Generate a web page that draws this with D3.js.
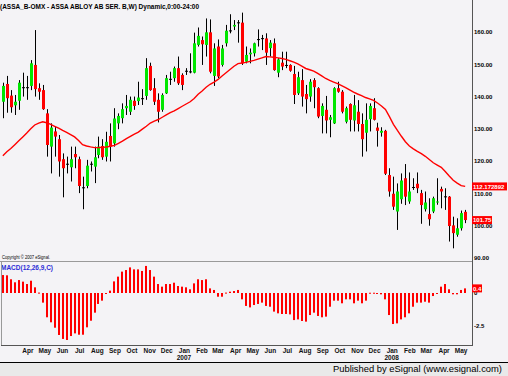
<!DOCTYPE html>
<html>
<head>
<meta charset="utf-8">
<script src="https://cdn.jsdelivr.net/npm/d3@7"></script>
<style>
  body { margin: 0; background: #f4f3f6; }
  svg { display: block; }
  text { font-family: "Liberation Sans", Arial, sans-serif; }
</style>
</head>
<body>
<div id="chart"></div>
<script>
// weekly candles, ASSA_B (OMX), Feb 2006 - May 2008
const weeks = d3.timeFriday.range(new Date(2006, 1, 17), new Date(2008, 4, 10));

const open = [138.4,143.9,140.3,137.3,138.7,142.8,142.9,143.3,149.8,142.6,142.0,134.8,124.5,129.2,126.8,120.6,119.2,118.1,122.2,120.6,
  111.9,112.3,119.1,118.3,121.9,124.7,121.4,127.8,125.5,131.7,133.3,136.4,135.3,138.7,138.6,139.4,140.2,149.5,142.6,139.0,
  135.9,141.0,145.4,145.7,148.8,146.7,147.9,147.7,147.4,156.0,157.5,156.0,159.9,146.4,155.5,149.8,156.5,160.4,161.7,162.9,
  162.9,150.8,153.1,153.4,157.7,158.0,158.0,155.0,156.5,147.4,150.5,149.8,149.8,147.0,141.0,145.1,140.8,140.0,145.1,142.6,
  134.0,135.9,132.8,131.7,142.6,141.5,132.2,137.7,132.6,135.3,131.5,128.8,133.0,136.4,130.4,128.8,129.4,115.7,109.9,104.4,
  108.2,114.7,107.5,111.9,113.0,110.1,105.1,103.6,104.4,107.2,111.4,109.0,109.0,100.1,97.2,99.2,104.3];
const high = [144.3,146.4,142.0,140.5,145.1,147.4,146.4,151.3,160.6,144.1,143.6,136.1,131.7,130.6,128.1,122.4,121.4,124.5,124.5,121.4,
  115.2,120.4,119.9,124.5,127.6,126.8,129.1,131.7,136.4,134.8,137.9,140.5,140.0,140.0,144.6,142.3,151.9,150.5,145.7,141.0,
  141.0,146.7,147.7,149.3,152.4,147.2,148.8,153.4,159.8,161.4,158.6,164.2,163.9,156.5,157.7,156.0,162.2,165.5,163.7,163.7,
  166.0,155.5,154.9,156.7,160.8,159.1,159.6,157.5,158.0,151.9,153.9,153.9,150.0,149.5,147.7,148.5,143.6,145.4,145.7,142.9,
  137.9,140.2,134.3,142.9,144.6,142.0,136.9,137.9,140.5,138.9,134.8,137.9,137.9,139.5,131.9,130.5,129.7,117.8,115.2,113.1,
  116.2,119.1,116.5,114.7,116.5,111.1,110.6,108.5,109.0,114.7,112.1,111.6,109.2,102.8,102.3,104.7,104.9];
const low = [133.3,135.0,135.0,134.3,135.9,140.0,139.0,142.0,140.0,139.0,135.9,121.4,116.2,121.4,115.2,108.8,116.2,113.7,117.8,110.1,
  105.1,111.6,116.8,113.2,120.9,120.4,119.9,119.9,124.5,129.9,131.7,134.3,134.3,135.9,137.4,137.4,139.0,141.8,137.4,132.0,
  135.3,140.8,143.6,144.6,143.6,142.0,146.7,147.2,147.2,155.5,149.8,152.4,147.2,143.3,145.7,149.3,155.5,159.6,160.6,156.7,
  149.8,150.3,150.3,152.4,155.5,154.4,149.8,152.4,148.0,146.0,148.2,148.8,147.7,137.7,140.5,136.9,134.8,138.4,136.4,133.3,
  128.6,128.6,127.4,131.5,141.2,134.8,131.7,129.2,129.2,129.2,121.4,123.0,129.2,132.6,124.5,127.6,115.7,109.0,104.9,98.7,
  106.8,106.4,106.8,111.1,110.1,100.6,104.4,100.0,103.9,106.5,105.4,104.9,95.1,93.0,96.6,98.5,100.8];
const close = [143.3,139.5,136.7,138.4,144.3,142.9,142.9,150.3,142.3,141.5,136.1,125.0,130.4,127.6,119.9,117.8,119.1,120.6,121.2,112.3,
  111.8,118.6,119.2,121.2,124.5,121.2,126.0,124.5,133.2,134.0,136.1,137.1,139.0,137.1,139.7,139.5,148.8,142.0,138.4,135.3,
  140.5,145.7,145.5,148.8,144.1,143.6,148.0,147.8,156.5,158.8,156.2,159.9,147.7,154.9,146.2,154.9,160.4,160.5,162.2,163.0,
  150.3,152.9,153.6,156.5,157.8,158.1,153.6,156.7,148.2,151.5,149.3,149.7,148.0,140.5,146.0,140.0,139.2,144.6,142.9,133.8,
  137.1,132.6,133.6,142.6,141.5,135.3,136.4,132.8,137.3,131.5,126.8,132.8,137.1,132.8,129.4,129.4,116.1,110.6,105.9,110.6,
  114.0,109.0,110.6,112.0,111.6,106.4,107.2,102.0,108.5,107.5,110.6,109.1,99.9,97.7,99.2,103.9,101.75];
// moving average line
const movingAvg = [121.7,122.9,123.9,125.1,126.3,127.5,128.7,130.0,131.2,131.8,132.2,131.9,131.4,130.8,130.2,129.5,128.9,128.2,127.5,126.4,
  125.1,124.7,124.4,124.2,124.2,124.3,124.4,124.6,124.9,125.5,126.2,127.0,127.7,128.4,129.0,129.9,130.8,131.8,132.4,132.9,
  133.6,134.3,135.0,135.6,136.3,137.0,137.7,138.4,139.4,140.7,141.7,142.9,143.8,144.5,145.3,146.4,147.4,148.4,149.4,150.2,
  150.4,150.6,150.9,151.2,151.6,152.0,152.4,152.3,152.2,152.0,151.8,151.5,151.1,150.7,150.1,149.4,148.7,148.3,147.9,147.2,
  146.4,145.6,145.0,144.5,144.0,143.4,142.8,142.1,141.4,140.8,140.3,139.7,139.3,138.8,138.0,137.1,136.0,133.8,131.4,129.5,
  127.7,126.0,124.7,123.8,123.0,122.3,121.5,120.5,119.5,118.8,118.1,116.8,115.4,114.1,113.2,112.4,112.17];
// MACD(12,26,9) histogram
const macd = [1.36,1.34,1.04,0.81,0.98,0.86,0.68,0.93,0.43,0.03,-0.73,-1.84,-2.22,-2.63,-3.18,-3.48,-3.56,-3.26,-3.06,-3.16,
  -3.16,-2.60,-2.10,-1.49,-0.83,-0.58,-0.03,0.18,0.88,1.24,1.62,1.74,1.94,1.79,1.79,1.67,2.05,1.74,1.24,0.68,
  0.48,0.68,0.68,0.78,0.53,0.48,0.43,0.28,0.73,1.04,0.98,1.04,0.35,0.23,-0.28,-0.28,0.03,0.10,0.15,0.23,
  -0.48,-0.98,-1.09,-0.91,-0.83,-0.73,-0.98,-1.04,-1.41,-1.54,-1.59,-1.59,-1.62,-2.05,-2.00,-2.12,-2.17,-1.67,-1.49,-1.74,
  -1.84,-1.79,-1.04,-0.58,-0.58,-0.78,-0.48,-0.48,-0.78,-0.58,-0.78,-0.58,0.02,0.02,-0.05,-0.10,-0.48,-1.67,-2.35,-2.30,
  -2.00,-1.84,-1.54,-1.04,-0.73,-0.73,-0.66,-0.73,-0.23,-0.03,0.48,0.68,0.28,-0.10,-0.10,0.23,0.35];

const priceTicks = [90, 100, 110, 120, 130, 140, 150, 160];
const macdTicks = [-2.5, 0];
const yearLabels = [["2007", new Date(2007, 0, 1)], ["2008", new Date(2008, 0, 1)]];
const title = "(ASSA_B-OMX - ASSA ABLOY AB SER. B,W) Dynamic,0:00-24:00";
const maLabel = "112.172892", closeLabel = "101.75", macdLabel = "0.4";

const data = weeks.map((d, i) => ({
  date: d, o: open[i], h: high[i], l: low[i], c: close[i], ma: movingAvg[i], m: macd[i]
}));

const width = 508, height = 376,
      plotRight = 472,
      pricePanel = { top: 0, bottom: 261 },
      macdPanel = { top: 261, bottom: 345 };

const svg = d3.select("#chart").append("svg")
    .attr("width", width)
    .attr("height", height);

svg.append("rect").attr("width", width).attr("height", height).attr("fill", "#f4f3f6");

const x = d3.scaleTime()
    .domain([new Date(2006, 1, 12), new Date(2008, 4, 21)])
    .range([0, plotRight]);

const y = d3.scaleLinear().domain([90, 160]).range([258, 32]);
const ym = d3.scaleLinear().domain([-2.5, 2.5]).range([326, 260]);

const defs = svg.append("defs");
defs.append("clipPath").attr("id", "clipPrice")
  .append("rect").attr("x", 0).attr("y", pricePanel.top).attr("width", plotRight).attr("height", pricePanel.bottom - pricePanel.top);
defs.append("clipPath").attr("id", "clipMacd")
  .append("rect").attr("x", 0).attr("y", macdPanel.top + 1).attr("width", width).attr("height", macdPanel.bottom - macdPanel.top - 1);

// ---- price panel
const price = svg.append("g").attr("clip-path", "url(#clipPrice)");

const cx = d => Math.round(x(d.date));

price.selectAll(".wick")
  .data(data)
  .join("rect")
    .attr("class", "wick")
    .attr("x", d => cx(d))
    .attr("width", 1)
    .attr("y", d => y(d.h))
    .attr("height", d => y(d.l) - y(d.h))
    .attr("fill", "#000");

price.selectAll(".body")
  .data(data)
  .join("rect")
    .attr("class", "body")
    .attr("x", d => cx(d) - 1)
    .attr("width", 3)
    .attr("y", d => y(Math.max(d.o, d.c)))
    .attr("height", d => Math.max(1, Math.abs(y(d.o) - y(d.c))))
    .attr("fill", d => Math.abs(d.c - d.o) < 0.15 ? "#000" : (d.c > d.o ? "#00e600" : "#ff0000"));

price.append("path")
  .datum(data)
  .attr("fill", "none")
  .attr("stroke", "#ff0000")
  .attr("stroke-width", 1.4)
  .attr("d", d3.line().x(d => x(d.date)).y(d => y(d.ma)));

// title + copyright
svg.append("text")
  .attr("x", 0).attr("y", 8.5)
  .attr("font-size", 6.5).attr("font-weight", "bold")
  .attr("textLength", 199).attr("lengthAdjust", "spacingAndGlyphs")
  .text(title);

svg.append("text")
  .attr("x", 2).attr("y", 258.5)
  .attr("font-size", 4.5)
  .attr("textLength", 48).attr("lengthAdjust", "spacingAndGlyphs")
  .text("Copyright © 2007 eSignal.");

// price axis labels
svg.append("g").selectAll("text")
  .data(priceTicks)
  .join("text")
    .attr("x", plotRight + 2)
    .attr("y", d => y(d) + 2.3)
    .attr("font-size", 6).attr("font-weight", "bold")
    .text(d => d.toFixed(2));

function valueBox(v, label, yScale, w) {
  const g = svg.append("g");
  g.append("rect")
    .attr("x", plotRight).attr("y", yScale(v) - 4)
    .attr("width", w).attr("height", 8)
    .attr("fill", "#ff0000");
  g.append("text")
    .attr("x", plotRight + 1).attr("y", yScale(v) + 2.3)
    .attr("font-size", 6).attr("font-weight", "bold").attr("fill", "#fff")
    .text(label);
}

// ---- MACD panel
const macdG = svg.append("g").attr("clip-path", "url(#clipMacd)");

macdG.selectAll(".bar")
  .data(data)
  .join("rect")
    .attr("class", "bar")
    .attr("x", d => cx(d) - 1)
    .attr("width", 2)
    .attr("y", d => Math.min(ym(d.m), ym(0)))
    .attr("height", d => Math.max(1, Math.abs(ym(d.m) - ym(0))))
    .attr("fill", "#ff0000");

macdG.selectAll(".mtick")
  .data(macdTicks)
  .join("text")
    .attr("class", "mtick")
    .attr("x", plotRight + 2)
    .attr("y", d => ym(d) + 2.3)
    .attr("font-size", 6).attr("font-weight", "bold")
    .text(d => d);

svg.append("text")
  .attr("x", 1).attr("y", 269.5)
  .attr("font-size", 6.5).attr("font-weight", "bold")
  .attr("fill", "#2c2cd6")
  .attr("textLength", 52).attr("lengthAdjust", "spacingAndGlyphs")
  .text("MACD(12,26,9,C)");

// panel lines
svg.append("line")
  .attr("x1", 0).attr("x2", plotRight).attr("y1", pricePanel.bottom + 0.5).attr("y2", pricePanel.bottom + 0.5)
  .attr("stroke", "#9a9a9a");
svg.append("line")
  .attr("x1", 1).attr("x2", plotRight).attr("y1", macdPanel.bottom + 0.5).attr("y2", macdPanel.bottom + 0.5)
  .attr("stroke", "#555");
svg.append("line")
  .attr("x1", 1.5).attr("x2", 1.5).attr("y1", macdPanel.top).attr("y2", macdPanel.bottom)
  .attr("stroke", "#999");
svg.append("line")
  .attr("x1", plotRight + 0.5).attr("x2", plotRight + 0.5).attr("y1", 0).attr("y2", macdPanel.bottom + 1)
  .attr("stroke", "#555");

valueBox(movingAvg[movingAvg.length - 1], maLabel, y, 35);
valueBox(close[close.length - 1], closeLabel, y, 20);
valueBox(macd[macd.length - 1], macdLabel, ym, 10);

// ---- time axis
const xAxis = d3.axisBottom(x)
    .ticks(d3.timeMonth.every(1))
    .tickFormat(d3.timeFormat("%b"))
    .tickSize(0)
    .tickPadding(0);

const axisG = svg.append("g")
    .attr("transform", `translate(0,${macdPanel.bottom + 2})`)
    .call(xAxis);
axisG.select(".domain").remove();
axisG.selectAll("text")
  .attr("dy", "0.45em").attr("y", 3)
  .attr("font-size", 6.5).attr("font-weight", "bold")
  .attr("font-family", "Liberation Sans, Arial, sans-serif")
  .attr("fill", "#111");
axisG.selectAll(".tick").filter(d => x(d) < 15).remove();

svg.append("g").selectAll("text")
  .data(yearLabels)
  .join("text")
    .attr("x", d => x(d[1]))
    .attr("y", 359.5)
    .attr("text-anchor", "middle")
    .attr("font-size", 6.5).attr("font-weight", "bold")
    .attr("fill", "#111")
    .text(d => d[0]);

// footer
svg.append("rect").attr("x", 0).attr("y", 362).attr("width", width).attr("height", height - 362).attr("fill", "#e9e9e9");
svg.append("line").attr("x1", 0).attr("x2", width).attr("y1", 362.5).attr("y2", 362.5).attr("stroke", "#000");
svg.append("text")
  .attr("x", 502).attr("y", 372)
  .attr("text-anchor", "end")
  .attr("font-size", 9)
  .attr("textLength", 169).attr("lengthAdjust", "spacingAndGlyphs")
  .text("Published by eSignal (www.esignal.com)");
</script>
</body>
</html>
